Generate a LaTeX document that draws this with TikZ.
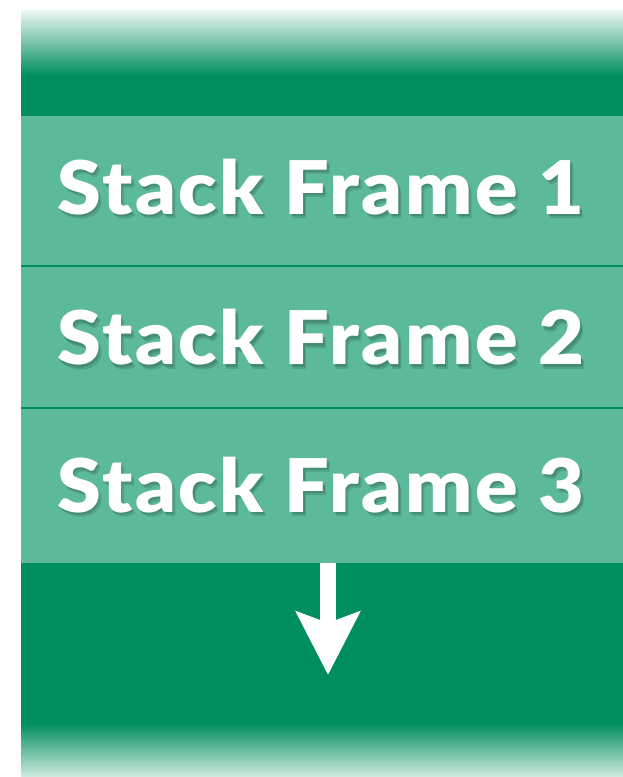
\documentclass[tikz,border=0pt]{standalone}
\usepackage{fontspec}
\newfontfamily\heavyfont{Lato Black}[LetterSpace=3.5, FakeStretch=1.07]
\usetikzlibrary{arrows.meta}
\definecolor{dkgreen}{RGB}{0,142,94}
\definecolor{ltgreen}{RGB}{92,186,155}
\definecolor{paleA}{RGB}{242,249,246}
\definecolor{paleB}{RGB}{208,236,224}
\tikzset{
  framebox/.style={fill=ltgreen, draw=none, minimum width=602pt, inner sep=0pt, outer sep=0pt},
  frametext/.style={text=white, font=\heavyfont\fontsize{74}{74}\selectfont, inner sep=0pt, anchor=base},
  shadowtext/.style={text=black, text opacity=0.13, font=\heavyfont\fontsize{74}{74}\selectfont, inner sep=0pt, anchor=base},
  sepline/.style={draw=dkgreen, line width=2pt},
  downarrow/.style={draw=white, line width=16pt, -{Stealth[length=63pt,width=63pt,inset=11pt]}}
}
\begin{document}
\begin{tikzpicture}[x=1pt,y=-1pt]
\useasboundingbox (0,0) rectangle (623,777);
% top gradient and dark band
\shade[top color=paleA, bottom color=dkgreen] (21,9) rectangle (623,75.5);
\fill[dkgreen] (21,75) rectangle (623,116);
% bottom dark band and gradient
\fill[dkgreen] (21,563) rectangle (623,723.5);
\shade[top color=dkgreen, bottom color=paleB] (21,723) rectangle (623,777);
% frames
\node[framebox, minimum height=150pt] (f1) at (322,191) {};
\node[framebox, minimum height=142pt] (f2) at (322,337) {};
\node[framebox, minimum height=155pt] (f3) at (322,485.5) {};
\draw[sepline] (f1.south west) -- (f1.south east);
\draw[sepline] (f2.south west) -- (f2.south east);
% texts with soft shadow
\foreach \i/\dx/\dy in {a/1.5/2.5, b/3/4.5}{
  \node[shadowtext] (s1\i) at ([shift={(\dx,\dy)}]321,214) {Stack Frame 1};
  \node[shadowtext] (s2\i) at ([shift={(\dx,\dy)}]321,364.5) {Stack Frame 2};
  \node[shadowtext] (s3\i) at ([shift={(\dx,\dy)}]321,512) {Stack Frame 3};
}
\node[frametext] (t1) at (321,214) {Stack Frame 1};
\node[frametext] (t2) at (321,364.5) {Stack Frame 2};
\node[frametext] (t3) at (321,512) {Stack Frame 3};
% arrow
\coordinate (tip) at (328,675);
\draw[downarrow] (f3.south -| tip) -- (tip);
\end{tikzpicture}
\end{document}
